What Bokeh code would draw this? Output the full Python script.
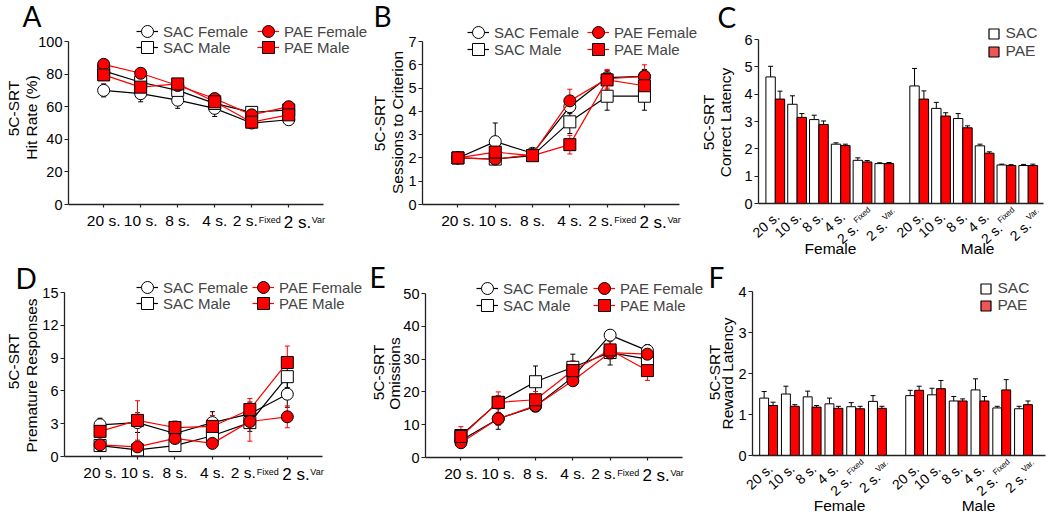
import math
from bokeh.plotting import figure
from bokeh.models import (Label, Legend, LegendItem, Whisker, TeeHead,
                          ColumnDataSource, FixedTicker, Range1d)
from bokeh.layouts import column, row
from bokeh.embed import file_html
from bokeh.resources import INLINE

# ---------------- data ----------------
stage_labels = ["20 s.", "10 s.", "8 s.", "4 s.", "2 s.", "2 s."]
stage_sup = ["", "", "", "", "Fixed", "Var"]
bar_sup = ["", "", "", "", "Fixed", "Var."]
group_names = ["Female", "Male"]
series_names = ["SAC Female", "SAC Male", "PAE Female", "PAE Male"]
stage_x = [1, 2, 3, 4, 5, 6]

# A: hit rate (%)
hit_sac_f = [70, 68, 64, 59, 50, 52]
hit_sac_f_err = [4, 5, 5, 5, 3, 2]
hit_sac_m = [82, 75, 70, 62, 56.5, 58]
hit_sac_m_err = [3, 4, 4, 3, 3, 2]
hit_pae_f = [86, 80.5, 73, 65, 55, 60]
hit_pae_f_err = [2, 2, 3, 2, 3, 2]
hit_pae_m = [79.5, 72, 74, 63, 50.5, 55]
hit_pae_m_err = [3, 3, 3, 3, 3, 3]

# B: sessions to criterion
ses_sac_f = [2, 2.7, 2.2, 4.2, 5.45, 5.5]
ses_sac_f_err = [0, 0.8, 0.1, 0.3, 0.3, 0.3]
ses_sac_m = [2, 1.95, 2.1, 3.55, 4.65, 4.65]
ses_sac_m_err = [0, 0.1, 0.1, 0.5, 0.6, 0.6]
ses_pae_f = [2, 1.95, 2.15, 4.45, 5.4, 5.5]
ses_pae_f_err = [0, 0.1, 0.1, 0.5, 0.4, 0.5]
ses_pae_m = [2, 2.25, 2.1, 2.57, 5.35, 5.1]
ses_pae_m_err = [0, 0.3, 0.1, 0.4, 0.4, 0.5]

# C: correct latency (bars)
cor_f_sac = [4.63, 3.63, 3.07, 2.17, 1.58, 1.46]
cor_f_sac_err = [0.39, 0.31, 0.16, 0.05, 0.09, 0.03]
cor_f_pae = [3.82, 3.15, 2.89, 2.12, 1.52, 1.46]
cor_f_pae_err = [0.29, 0.14, 0.13, 0.05, 0.05, 0.04]
cor_m_sac = [4.30, 3.48, 3.11, 2.11, 1.41, 1.39]
cor_m_sac_err = [0.64, 0.22, 0.18, 0.06, 0.03, 0.04]
cor_m_pae = [3.82, 3.20, 2.77, 1.84, 1.39, 1.39]
cor_m_pae_err = [0.30, 0.12, 0.07, 0.05, 0.03, 0.05]

# D: premature responses
pre_sac_f = [2.9, 3.1, 2.1, 3.1, 3.9, 5.7]
pre_sac_f_err = [0.6, 0.9, 0.4, 1.0, 1.0, 1.2]
pre_sac_m = [1.0, 0.6, 1.0, 1.9, 3.1, 7.3]
pre_sac_m_err = [0.3, 0.4, 0.4, 0.6, 0.8, 1.0]
pre_pae_f = [1.07, 0.88, 1.65, 1.2, 3.2, 3.63]
pre_pae_f_err = [0.3, 0.3, 0.4, 0.4, 1.8, 1.0]
pre_pae_m = [2.3, 3.3, 2.65, 2.75, 4.3, 8.6]
pre_pae_m_err = [0.5, 1.8, 0.6, 1.0, 1.0, 1.5]

# E: omissions
omi_sac_f = [5.2, 11.8, 15.6, 24.5, 37.3, 32.6]
omi_sac_f_err = [1.0, 3.2, 1.5, 2.5, 1.5, 1.8]
omi_sac_m = [6.7, 16.8, 23.1, 27.5, 32.0, 30.0]
omi_sac_m_err = [1.5, 2.0, 4.8, 4.0, 3.8, 3.0]
omi_pae_f = [4.5, 11.8, 15.8, 23.4, 32.0, 31.5]
omi_pae_f_err = [1.0, 2.0, 1.5, 1.5, 2.0, 2.0]
omi_pae_m = [6.4, 16.8, 17.6, 26.5, 32.8, 26.5]
omi_pae_m_err = [3.0, 3.2, 2.5, 3.0, 2.5, 3.0]

# F: reward latency (bars)
rew_f_sac = [1.40, 1.50, 1.43, 1.26, 1.19, 1.32]
rew_f_sac_err = [0.16, 0.19, 0.14, 0.14, 0.10, 0.14]
rew_f_pae = [1.22, 1.20, 1.18, 1.15, 1.14, 1.15]
rew_f_pae_err = [0.08, 0.04, 0.04, 0.05, 0.06, 0.05]
rew_m_sac = [1.46, 1.48, 1.33, 1.60, 1.16, 1.14]
rew_m_sac_err = [0.13, 0.16, 0.11, 0.27, 0.04, 0.06]
rew_m_pae = [1.59, 1.63, 1.33, 1.33, 1.60, 1.24]
rew_m_pae_err = [0.10, 0.20, 0.05, 0.11, 0.25, 0.09]

# ---------------- style ----------------
FONT = "Liberation Sans"
LETTER_FONT = "Lato"
RED = "#ff0000"
LEG_RED = "#f05555"


def lab(p, x, y, text, size, xo=0, yo=0, align="center", baseline="middle",
        angle=0, font=FONT):
    p.add_layout(Label(x=x, y=y, text=text, x_offset=xo, y_offset=yo,
                       text_align=align, text_baseline=baseline, angle=angle,
                       text_font=font, text_font_size=f"{size}px",
                       text_color="black"))


def mk_fig(fig_box, plot_box, data_box, yticks):
    ox, oy, w, h = fig_box
    L, R, T, B = plot_box
    x0, x1, y0, y1 = data_box
    sx = (x1 - x0) / (R - L)
    sy = (y1 - y0) / (B - T)
    xr = Range1d(x0 - (L - ox) * sx, x0 + (ox + w - L) * sx)
    yr = Range1d(y0 - (oy + h - B) * sy, y1 + (T - oy) * sy)
    p = figure(width=w, height=h, x_range=xr, y_range=yr,
               output_backend="svg", toolbar_location=None,
               min_border=0, min_border_left=0, min_border_right=0,
               min_border_top=0, min_border_bottom=0)
    p.outline_line_color = None
    p.grid.visible = False
    p.background_fill_color = "white"
    p.border_fill_color = "white"
    for ax in (p.xaxis[0], p.yaxis[0]):
        ax.axis_line_color = "#222222"
        ax.axis_line_width = 1.3
        ax.major_tick_line_color = "#222222"
        ax.major_tick_line_width = 1.2
        ax.minor_tick_line_color = None
        ax.major_tick_in = 0
    p.yaxis.fixed_location = x0
    p.yaxis.bounds = (y0, y1)
    p.xaxis.fixed_location = y0
    p.xaxis.bounds = (x0, x1)
    p.yaxis.ticker = FixedTicker(ticks=yticks)
    p.yaxis.major_tick_out = 4
    p.yaxis.major_label_standoff = 2
    p.yaxis.major_label_text_font = FONT
    p.yaxis.major_label_text_font_size = "14.5px"
    p.yaxis.major_label_text_color = "black"

    def px(X, Y):
        return x0 + (X - L) * sx, y0 + (B - Y) * sy
    return p, px


def legend1(p, fig_box, item, mx, my, gw, gh, standoff, size):
    ox, oy, w, h = fig_box
    left = mx - gw / 2
    bottom = my + gh / 2
    p.add_layout(Legend(items=[item], location=(left - ox, oy + h - bottom),
                        orientation="vertical", glyph_width=gw, glyph_height=gh,
                        spacing=0, padding=0, margin=0, label_standoff=standoff,
                        label_text_font=FONT, label_text_font_size=f"{size}px",
                        label_height=min(gh, 16), border_line_color=None,
                        background_fill_alpha=0))


def decorate(p, px, letter, letter_pos, ylabels):
    lx, ly = px(*letter_pos)
    lab(p, lx, ly, letter, 28, align="left", baseline="middle", font=LETTER_FONT)
    for text, X, Y in ylabels:
        x, y = px(X, Y)
        lab(p, x, y, text, 15.5, angle=math.pi / 2)


def line_panel(fig_box, plot_box, yend, yticks, data, letter, letter_pos,
               ylabels, leg):
    p, px = mk_fig(fig_box, plot_box, (0.05, 6.94, 0, yend), yticks)
    p.xaxis.ticker = FixedTicker(ticks=stage_x)
    p.xaxis.major_label_overrides = {x: "" for x in stage_x}
    p.xaxis.major_tick_out = 3
    styles = [("black", "circle", "white"), ("black", "square", "white"),
              (RED, "circle", RED), (RED, "square", RED)]
    rends = []
    for (vals, errs), (col, mk, fill) in zip(data, styles):
        src = ColumnDataSource(dict(x=stage_x, y=vals,
                                    lo=[v - e for v, e in zip(vals, errs)],
                                    hi=[v + e for v, e in zip(vals, errs)]))
        p.add_layout(Whisker(source=src, base="x", lower="lo", upper="hi",
                             line_color=col, line_width=1,
                             upper_head=TeeHead(size=5, line_color=col, line_width=1),
                             lower_head=TeeHead(size=5, line_color=col, line_width=1)))
        lr = p.line("x", "y", source=src, line_color=col, line_width=1.2)
        sr = p.scatter("x", "y", source=src, marker=mk, size=12,
                       fill_color=fill, line_color="black", line_width=1)
        rends.append((lr, sr))
    sac_mx, pae_mx, row0, pitch, standoff = leg
    pos = [(sac_mx, row0), (sac_mx, row0 + pitch), (pae_mx, row0), (pae_mx, row0 + pitch)]
    for (lr, sr), name, (mx, my) in zip(rends, series_names, pos):
        # short line key, then marker key with the series name
        legend1(p, fig_box, LegendItem(label=" ", renderers=[lr]), mx, my, 22, 16, 0, 6)
        legend1(p, fig_box, LegendItem(label=name, renderers=[sr]), mx, my, 30, 30,
                standoff, 15)
    for x, t, sup in zip(stage_x, stage_labels, stage_sup):
        if sup == "":
            lab(p, x, 0, t, 15.5, yo=-16)
        elif sup == "Fixed":
            lab(p, x, 0, t, 15.5, xo=6, yo=-16, align="right")
            lab(p, x, 0, sup, 9, xo=7, yo=-10, align="left", baseline="top")
        else:
            lab(p, x, 0, t, 17, xo=-5, yo=-18, align="left")
            lab(p, x, 0, sup, 9, xo=23, yo=-10, align="left", baseline="top")
    decorate(p, px, letter, letter_pos, ylabels)
    return p


ANG = math.radians(42)
DX, DY = math.cos(ANG), math.sin(ANG)
PX, PY = -math.sin(ANG), math.cos(ANG)


def bar_panel(fig_box, plot_box, xend, yend, yticks, fem, mal, fem_c, mal_c, bw,
              letter, letter_pos, ylabels, leg, group_x, group_yo):
    p, px = mk_fig(fig_box, plot_box, (0, xend, 0, yend), yticks)
    p.xaxis.ticker = FixedTicker(ticks=[])
    p.xaxis.major_tick_out = 0
    for centers, (sv, se, pv, pe) in ((fem_c, fem), (mal_c, mal)):
        for vals, errs, dx, fill in ((sv, se, -bw / 2, "white"), (pv, pe, bw / 2, RED)):
            xs = [c + dx for c in centers]
            src = ColumnDataSource(dict(x=xs, top=vals,
                                        hi=[v + e for v, e in zip(vals, errs)]))
            p.add_layout(Whisker(source=src, base="x", lower="top", upper="hi",
                                 line_color="black", line_width=1,
                                 upper_head=TeeHead(size=5, line_color="black", line_width=1),
                                 lower_head=None))
            p.vbar(x="x", top="top", width=bw, source=src, fill_color=fill,
                   line_color="black", line_width=1)
    far = p.x_range.start - 100
    sac_proxy = p.scatter(x=[far], y=[0], marker="square", size=10, fill_color="white",
                          line_color="black", line_width=1.2)
    pae_proxy = p.scatter(x=[far], y=[0], marker="square", size=10, fill_color=LEG_RED,
                          line_color="black", line_width=1.2)
    mx, row0, pitch = leg
    legend1(p, fig_box, LegendItem(label="SAC", renderers=[sac_proxy]), mx, row0, 25, 25, 0, 15.5)
    legend1(p, fig_box, LegendItem(label="PAE", renderers=[pae_proxy]), mx, row0 + pitch, 25, 25, 0, 15.5)
    for centers in (fem_c, mal_c):
        for c, t, sup in zip(centers, stage_labels, bar_sup):
            if sup == "":
                lab(p, c, 0, t, 14, xo=2, yo=-11, align="right", angle=ANG)
            else:
                ax, ay = (-6.5, -22.5) if sup == "Fixed" else (0.5, -19.5)
                lab(p, c, 0, t, 14, xo=ax, yo=ay, align="right", angle=ANG)
                lab(p, c, 0, sup, 8, xo=ax + 2 * DX + 4 * PX, yo=ay + 2 * DY + 4 * PY,
                    align="left", angle=ANG)
    for gx, g in zip(group_x, group_names):
        lab(p, gx, 0, g, 15.5, yo=group_yo)
    decorate(p, px, letter, letter_pos, ylabels)
    return p


C_fem_c = [0.77 + i for i in range(6)]
C_mal_c = [7.37 + i for i in range(6)]
F_fem_c = [0.74 + i for i in range(6)]
F_mal_c = [7.45 + i for i in range(6)]

pA = line_panel((0, 0, 369, 260), (68, 323, 41, 204), 100, [0, 20, 40, 60, 80, 100],
                [(hit_sac_f, hit_sac_f_err), (hit_sac_m, hit_sac_m_err),
                 (hit_pae_f, hit_pae_f_err), (hit_pae_m, hit_pae_m_err)],
                "A", (22, 15), [("5C-SRT", 12.7, 108), ("Hit Rate (%)", 31, 117)],
                (147, 268, 31, 16, 1))
pB = line_panel((369, 0, 330, 260), (422, 679, 41, 204), 7, [0, 1, 2, 3, 4, 5, 6, 7],
                [(ses_sac_f, ses_sac_f_err), (ses_sac_m, ses_sac_m_err),
                 (ses_pae_f, ses_pae_f_err), (ses_pae_m, ses_pae_m_err)],
                "B", (373, 15), [("5C-SRT", 379, 123), ("Sessions to Criterion", 397, 122)],
                (478, 598, 32, 17, 1))
pC = bar_panel((699, 0, 351, 260), (758, 1043, 39, 203), 13.07, 6, [0, 1, 2, 3, 4, 5, 6],
               (cor_f_sac, cor_f_sac_err, cor_f_pae, cor_f_pae_err),
               (cor_m_sac, cor_m_sac_err, cor_m_pae, cor_m_pae_err),
               C_fem_c, C_mal_c, 0.43,
               "C", (717, 16), [("5C-SRT", 708, 122), ("Correct Latency", 725, 122)],
               (993, 33, 18), (3.30, 10.05), -45)
pD = line_panel((0, 260, 368, 256), (64, 322, 292, 456), 15, [0, 3, 6, 9, 12, 15],
                [(pre_sac_f, pre_sac_f_err), (pre_sac_m, pre_sac_m_err),
                 (pre_pae_f, pre_pae_f_err), (pre_pae_m, pre_pae_m_err)],
                "D", (15, 277.5), [("5C-SRT", 12.5, 361), ("Premature Responses", 31, 375)],
                (147, 263, 287, 16, 1))
pE = line_panel((368, 260, 338, 256), (425, 682, 293, 457), 50, [0, 10, 20, 30, 40, 50],
                [(omi_sac_f, omi_sac_f_err), (omi_sac_m, omi_sac_m_err),
                 (omi_pae_f, omi_pae_f_err), (omi_pae_m, omi_pae_m_err)],
                "E", (369, 276.5), [("5C-SRT", 378, 372), ("Omissions", 394, 373)],
                (487, 604, 288, 17, 1))
pF = bar_panel((706, 260, 344, 256), (752, 1045, 291, 455), 13.46, 4, [0, 1, 2, 3, 4],
               (rew_f_sac, rew_f_sac_err, rew_f_pae, rew_f_pae_err),
               (rew_m_sac, rew_m_sac_err, rew_m_pae, rew_m_pae_err),
               F_fem_c, F_mal_c, 0.41,
               "F", (708, 276), [("5C-SRT", 714, 372), ("Reward Latency", 727, 373)],
               (985, 288, 17), (4.0, 10.38), -50)

layout = column(row(pA, pB, pC, spacing=0), row(pD, pE, pF, spacing=0), spacing=0)
open("out.html", "w").write(file_html(layout, INLINE))
